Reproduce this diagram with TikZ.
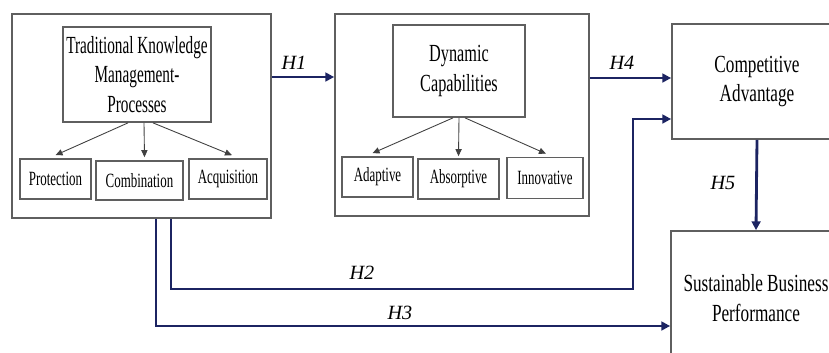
\documentclass[tikz,border=0pt]{standalone}
\usepackage{fontspec}
\setmainfont{Liberation Serif}
\usepackage{graphicx}
\usetikzlibrary{positioning,calc,arrows.meta}

\definecolor{hypblue}{RGB}{28,36,98}
\definecolor{boxgray}{RGB}{95,95,95}
\newcommand\sq[2][0.68]{\scalebox{#1}[1]{#2}}

\tikzset{
    box/.style = {draw=boxgray, line width=1pt, inner sep=0pt, align=center,
                  font=\fontsize{14}{17}\selectfont},
    subbox/.style = {draw=boxgray, line width=0.9pt, inner sep=0pt,
                  minimum height=0.8cm, font=\fontsize{11.5}{14}\selectfont},
    group/.style = {draw=boxgray, line width=1pt, inner sep=0pt},
    sub/.style = {-{Triangle[length=4pt,width=3.5pt]}, line width=0.5pt, draw=black!75},
    hyp/.style = {-{Triangle[length=5pt,width=5pt]}, line width=1.6pt, draw=hypblue},
    hlabel/.style = {font=\fontsize{11.5}{13}\selectfont\itshape}
}

\begin{document}
\begin{tikzpicture}[x=0.02cm,y=-0.02cm]
    \useasboundingbox (0,0) rectangle (829,352);
    \clip (0,0) rectangle (829,352);
    % left block
    \node[group, minimum width=5.18cm, minimum height=4.08cm] (tkmgroup) at (141.5,116) {};
    \node[box, minimum width=2.96cm, minimum height=1.9cm] (tkm) at (137,74.5)
        {\sq[0.62]{Traditional Knowledge}\\\sq[0.62]{Management-}\\\sq[0.62]{Processes}};
    \node[subbox, minimum width=1.42cm] (prot) at (55.5,179) {\sq[0.64]{Protection}};
    \node[subbox, minimum width=1.74cm, minimum height=0.78cm] (comb) at (139.5,180.5) {\sq[0.64]{Combination}};
    \node[subbox, minimum width=1.56cm] (acq) at (228,179) {\sq[0.64]{Acquisition}};
    % middle block
    \node[group, minimum width=5.08cm, minimum height=4.04cm] (dcgroup) at (462,115) {};
    \node[box, minimum width=2.64cm, minimum height=1.84cm] (dc) at (459,71)
        {\sq[0.66]{Dynamic}\\\sq[0.66]{Capabilities}};
    \node[subbox, minimum width=1.42cm] (adap) at (377.5,177) {\sq[0.64]{Adaptive}};
    \node[subbox, minimum width=1.62cm] (abso) at (458.5,179) {\sq[0.64]{Absorptive}};
    \node[subbox, minimum width=1.52cm, minimum height=0.82cm] (inno) at (545,178) {\sq[0.64]{Innovative}};
    % outcomes
    \node[box, minimum width=3.4cm, minimum height=2.3cm] (ca) at (757,81.5)
        {\sq[0.7]{Competitive}\\\sq[0.7]{Advantage}};
    \node[box, minimum width=3.4cm, minimum height=2.68cm] (sbp) at (756,298)
        {\sq[0.7]{Sustainable Business}\\\sq[0.7]{Performance}};

    \draw[sub] ($(tkm.south)+(-9,0)$) -- ($(prot.north)+(0,-3)$);
    \draw[sub] ($(tkm.south)+(7,0)$) -- ($(comb.north)+(5,-3)$);
    \draw[sub] ($(tkm.south)+(16,0)$) -- ($(acq.north)+(4,-3)$);
    \draw[sub] ($(dc.south)+(-6,0)$) -- ($(adap.north)+(-5,-3)$);
    \draw[sub] (dc.south) -- ($(abso.north)+(0,-2)$);
    \draw[sub] ($(dc.south)+(6,0)$) -- ($(inno.north)+(1,-3)$);

    \coordinate (h2turn) at (633,289);
    \draw[hyp] ($(tkmgroup.east)+(0,-39)$) -- ($(dcgroup.west)+(0,-38)$);
    \draw[hyp] ($(dcgroup.east)+(0,-37)$) -- ($(ca.west)+(0,-3.5)$);
    \draw[hyp] ($(tkmgroup.south)+(29.5,0)$) |- (h2turn) |- ($(ca.west)+(0,37.5)$);
    \draw[hyp] ($(tkmgroup.south)+(14.5,0)$) |- ($(sbp.west)+(0,28)$);
    \draw[hyp] (ca.south) -- (sbp.north);

    \node[hlabel] (h1) at (294,63) {H1};
    \node[hlabel] (h2) at (362,273) {H2};
    \node[hlabel] (h3) at (400,313) {H3};
    \node[hlabel] (h4) at (622,63) {H4};
    \node[hlabel] (h5) at (723,183) {H5};
\end{tikzpicture}
\end{document}
